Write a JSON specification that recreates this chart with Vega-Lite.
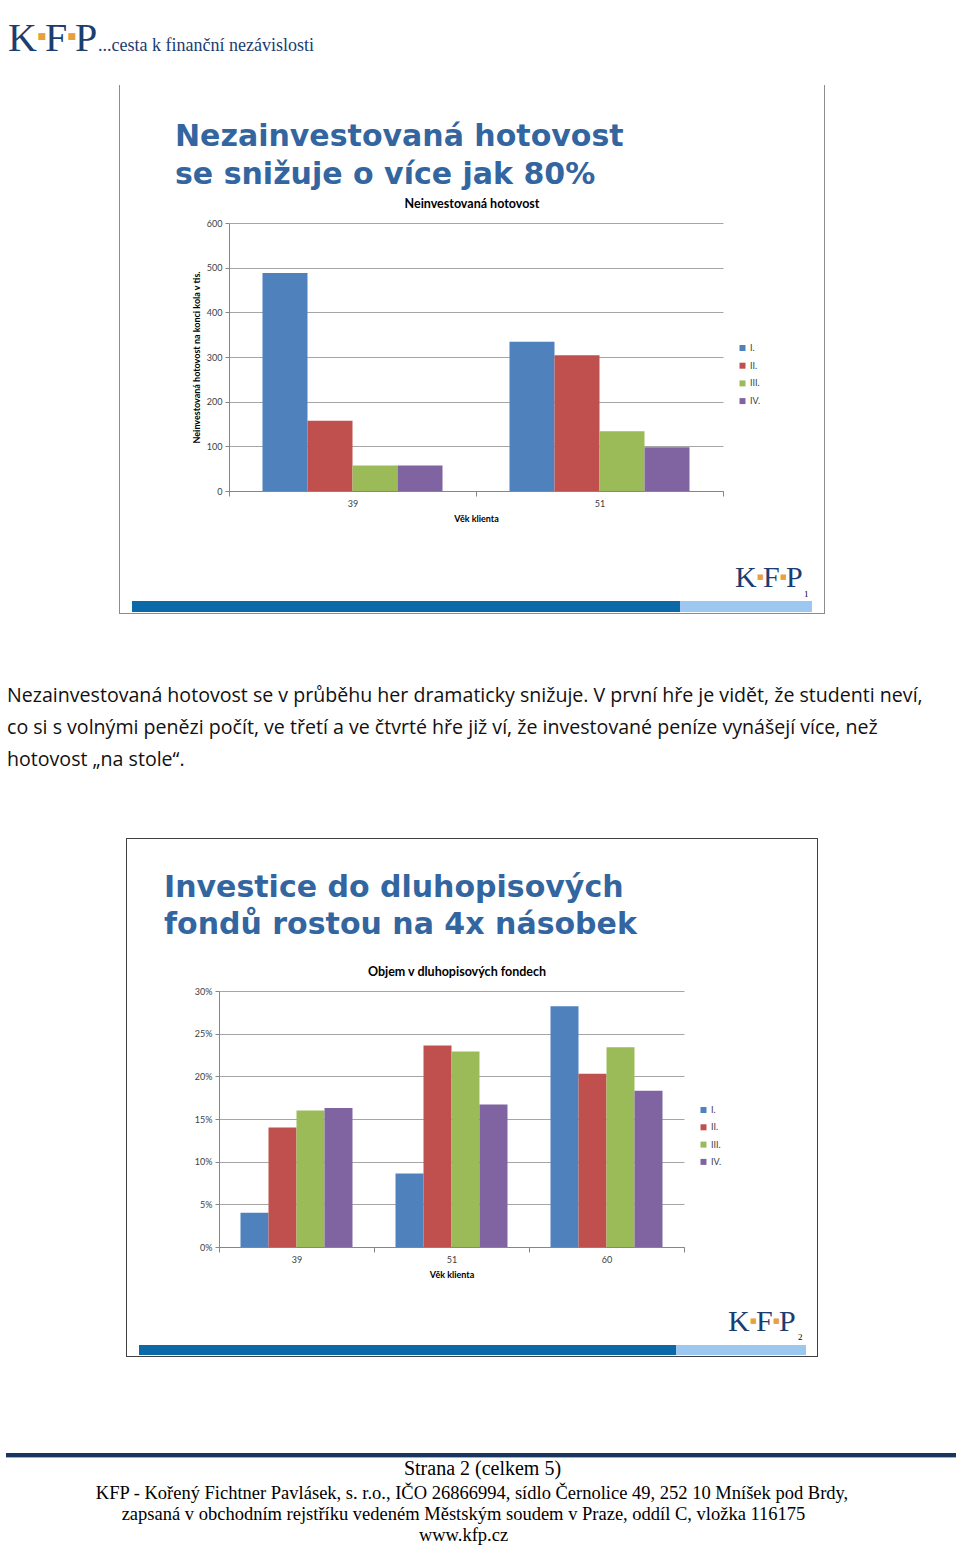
{
  "$schema": "https://vega.github.io/schema/vega-lite/v6.json",
  "padding": 0,
  "background": "white",
  "spacing": 0,
  "resolve": {"scale": {"color": "independent", "xOffset": "independent"}, "legend": {"color": "independent"}},
  "config": {
    "view": {"stroke": null},
    "concat": {"spacing": 0},
    "axis": {"labelFont": "Lato", "titleFont": "Lato"},
    "legend": {"labelFont": "Lato"}
  },
  "vconcat": [
    {
      "hconcat": [
        {"width": 8, "height": 60, "data": {"values": []}, "mark": "point"},
        {"width": 29, "height": 60, "data": {"values": []}, "mark": "point", "title": {"text": "K", "orient": "bottom", "frame": "group", "anchor": "start", "offset": -41, "font": "Liberation Serif", "fontSize": 40, "fontWeight": "normal", "color": "#1b3d70"}},
        {"width": 8, "height": 60, "data": {"values": []}, "mark": "point", "title": {"text": "■", "orient": "bottom", "frame": "group", "anchor": "start", "offset": -28, "dx": 0.5, "font": "DejaVu Sans", "fontSize": 9, "fontWeight": "normal", "color": "#e8a03c"}},
        {"width": 22, "height": 60, "data": {"values": []}, "mark": "point", "title": {"text": "F", "orient": "bottom", "frame": "group", "anchor": "start", "offset": -41, "font": "Liberation Serif", "fontSize": 40, "fontWeight": "normal", "color": "#1b3d70"}},
        {"width": 8, "height": 60, "data": {"values": []}, "mark": "point", "title": {"text": "■", "orient": "bottom", "frame": "group", "anchor": "start", "offset": -28, "dx": 0.5, "font": "DejaVu Sans", "fontSize": 9, "fontWeight": "normal", "color": "#e8a03c"}},
        {"width": 23, "height": 60, "data": {"values": []}, "mark": "point", "title": {"text": "P", "orient": "bottom", "frame": "group", "anchor": "start", "offset": -41, "font": "Liberation Serif", "fontSize": 40, "fontWeight": "normal", "color": "#1b3d70"}},
        {"width": 300, "height": 60, "data": {"values": []}, "mark": "point", "title": {"text": "...cesta k finanční nezávislosti", "orient": "bottom", "frame": "group", "anchor": "start", "offset": -23, "font": "Liberation Serif", "fontSize": 18, "fontWeight": "normal", "color": "#1b3d70"}}
      ],
      "spacing": 0,
      "bounds": "flush"
    },
    {"width": 960, "height": 25, "data": {"values": []}, "mark": "point"},
    {
      "hconcat": [
        {"width": 119, "height": 528, "data": {"values": []}, "mark": "point"},
        {"width": 1, "height": 528, "data": {"values": [{}]}, "mark": {"type": "rect", "color": "#8c8c8c"}},
        {
          "vconcat": [
            {"width": 704, "height": 110, "data": {"values": []}, "mark": "point", "title": {"text": ["Nezainvestovaná hotovost", "se snižuje o více jak 80%"], "orient": "bottom", "frame": "group", "anchor": "start", "offset": -73, "dx": 55, "font": "DejaVu Sans", "fontSize": 30, "fontWeight": "bold", "color": "#3366a0", "lineHeight": 38}},
            {"width": 704, "height": 24, "data": {"values": []}, "mark": "point", "title": {"text": "Neinvestovaná hotovost", "orient": "bottom", "frame": "group", "anchor": "middle", "offset": -21, "font": "Lato", "fontSize": 12.5, "fontWeight": "bold", "color": "#000000"}},
            {
              "hconcat": [
                {"width": 109, "height": 268, "data": {"values": []}, "mark": "point"},
                {
                  "width": 494,
                  "height": 268,
                  "data": {"values": [
                    {"vek": "39", "kolo": "I.", "hotovost": 488},
                    {"vek": "39", "kolo": "II.", "hotovost": 157},
                    {"vek": "39", "kolo": "III.", "hotovost": 57},
                    {"vek": "39", "kolo": "IV.", "hotovost": 57},
                    {"vek": "51", "kolo": "I.", "hotovost": 334},
                    {"vek": "51", "kolo": "II.", "hotovost": 304},
                    {"vek": "51", "kolo": "III.", "hotovost": 134},
                    {"vek": "51", "kolo": "IV.", "hotovost": 98}
                  ]},
                  "mark": {"type": "bar"},
                  "encoding": {
                    "x": {"field": "vek", "type": "nominal", "sort": ["39", "51"], "scale": {"paddingInner": 0, "paddingOuter": 0},
                      "axis": {"title": "Věk klienta", "labelAngle": 0, "tickBand": "extent", "ticks": true, "tickSize": 5, "tickColor": "#868686", "domainColor": "#868686", "labelPadding": 3.5, "labelFontSize": 9, "labelColor": "#404040", "titleFontSize": 9, "titleFontWeight": "bold", "titleColor": "#000000", "titlePadding": 6, "grid": false}},
                    "xOffset": {"field": "kolo", "type": "nominal", "sort": ["I.", "II.", "III.", "IV."], "scale": {"paddingInner": 0, "paddingOuter": 0.744}},
                    "y": {"field": "hotovost", "type": "quantitative", "scale": {"domain": [0, 600], "nice": false},
                      "axis": {"title": "Neinvestovaná hotovost na konci kola v tis.", "values": [0, 100, 200, 300, 400, 500, 600], "grid": true, "gridColor": "#a6a6a6", "domainColor": "#868686", "tickColor": "#868686", "tickSize": 4, "labelPadding": 3, "labelFontSize": 9, "labelColor": "#404040", "titleFontSize": 9, "titleFontWeight": "bold", "titleColor": "#000000", "titlePadding": 5, "minExtent": 23, "maxExtent": 23}},
                    "color": {"field": "kolo", "type": "nominal", "sort": ["I.", "II.", "III.", "IV."],
                      "scale": {"domain": ["I.", "II.", "III.", "IV."], "range": ["#4f81bd", "#c0504d", "#9bbb59", "#8064a2"]},
                      "legend": {"title": null, "orient": "none", "direction": "vertical", "legendX": 509, "legendY": 120.5, "symbolType": "square", "symbolSize": 36, "symbolStrokeWidth": 0, "labelFontSize": 9, "labelColor": "#404040", "rowPadding": 7.7, "labelOffset": 3, "padding": 0}}
                  }
                },
                {"width": 101, "height": 268, "data": {"values": []}, "mark": "point"}
              ],
              "spacing": 0,
              "bounds": "flush",
              "resolve": {"scale": {"color": "independent", "xOffset": "independent"}, "legend": {"color": "independent"}}
            },
            {"width": 704, "height": 30, "data": {"values": []}, "mark": "point"},
            {
              "hconcat": [
                {"width": 615, "height": 47, "data": {"values": []}, "mark": "point"},
                {"width": 22, "height": 47, "data": {"values": []}, "mark": "point", "title": {"text": "K", "orient": "bottom", "frame": "group", "anchor": "start", "offset": -38, "font": "Liberation Serif", "fontSize": 30, "fontWeight": "normal", "color": "#1b3d70"}},
                {"width": 6, "height": 47, "data": {"values": []}, "mark": "point", "title": {"text": "■", "orient": "bottom", "frame": "group", "anchor": "start", "offset": -28, "font": "DejaVu Sans", "fontSize": 7, "fontWeight": "normal", "color": "#e8a03c"}},
                {"width": 17, "height": 47, "data": {"values": []}, "mark": "point", "title": {"text": "F", "orient": "bottom", "frame": "group", "anchor": "start", "offset": -38, "font": "Liberation Serif", "fontSize": 30, "fontWeight": "normal", "color": "#1b3d70"}},
                {"width": 6, "height": 47, "data": {"values": []}, "mark": "point", "title": {"text": "■", "orient": "bottom", "frame": "group", "anchor": "start", "offset": -28, "font": "DejaVu Sans", "fontSize": 7, "fontWeight": "normal", "color": "#e8a03c"}},
                {"width": 17, "height": 47, "data": {"values": []}, "mark": "point", "title": {"text": "P", "orient": "bottom", "frame": "group", "anchor": "start", "offset": -38, "font": "Liberation Serif", "fontSize": 30, "fontWeight": "normal", "color": "#1b3d70"}},
                {"width": 21, "height": 47, "data": {"values": []}, "mark": "point", "title": {"text": "1", "orient": "bottom", "frame": "group", "anchor": "start", "offset": -11, "dx": 1, "font": "Liberation Serif", "fontSize": 9, "fontWeight": "normal", "color": "#000000"}}
              ],
              "spacing": 0,
              "bounds": "flush"
            },
            {
              "hconcat": [
                {"width": 12, "height": 11, "data": {"values": []}, "mark": "point"},
                {"width": 548, "height": 11, "data": {"values": [{}]}, "mark": {"type": "rect", "color": "#0b69a8"}},
                {"width": 132, "height": 11, "data": {"values": [{}]}, "mark": {"type": "rect", "color": "#9cc8ef"}},
                {"width": 12, "height": 11, "data": {"values": []}, "mark": "point"}
              ],
              "spacing": 0,
              "bounds": "flush"
            }
          ],
          "spacing": 0,
          "resolve": {"scale": {"color": "independent", "xOffset": "independent"}, "legend": {"color": "independent"}}
        },
        {"width": 1, "height": 528, "data": {"values": [{}]}, "mark": {"type": "rect", "color": "#8c8c8c"}}
      ],
      "spacing": 0,
      "resolve": {"scale": {"color": "independent", "xOffset": "independent"}, "legend": {"color": "independent"}}
    },
    {
      "hconcat": [
        {"width": 119, "height": 1, "data": {"values": []}, "mark": "point"},
        {"width": 706, "height": 1, "data": {"values": [{}]}, "mark": {"type": "rect", "color": "#8c8c8c"}}
      ],
      "spacing": 0,
      "bounds": "flush"
    },
    {"width": 960, "height": 224, "data": {"values": []}, "mark": "point", "title": {"text": ["Nezainvestovaná hotovost se v průběhu her dramaticky snižuje.  V první hře je vidět, že studenti neví,", "co si s volnými penězi počít, ve třetí a ve čtvrté hře již ví, že investované peníze vynášejí více, než", "hotovost „na stole“."], "orient": "bottom", "frame": "group", "anchor": "start", "offset": -151, "dx": 7, "font": "Open Sans", "fontSize": 19.6, "fontWeight": "normal", "color": "#111111", "lineHeight": 32}},
    {
      "hconcat": [
        {"width": 126, "height": 1, "data": {"values": []}, "mark": "point"},
        {"width": 692, "height": 1, "data": {"values": [{}]}, "mark": {"type": "rect", "color": "#404040"}}
      ],
      "spacing": 0,
      "bounds": "flush"
    },
    {
      "hconcat": [
        {"width": 126, "height": 517, "data": {"values": []}, "mark": "point"},
        {"width": 1, "height": 517, "data": {"values": [{}]}, "mark": {"type": "rect", "color": "#404040"}},
        {
          "vconcat": [
            {"width": 690, "height": 110, "data": {"values": []}, "mark": "point", "title": {"text": ["Investice do dluhopisových", "fondů rostou na 4x násobek"], "orient": "bottom", "frame": "group", "anchor": "start", "offset": -76, "dx": 37, "font": "DejaVu Sans", "fontSize": 30, "fontWeight": "bold", "color": "#3366a0", "lineHeight": 37}},
            {"width": 690, "height": 38, "data": {"values": []}, "mark": "point", "title": {"text": "Objem v dluhopisových fondech", "orient": "bottom", "frame": "group", "anchor": "middle", "offset": -21, "dx": -15, "font": "Lato", "fontSize": 12.5, "fontWeight": "bold", "color": "#000000"}},
            {
              "hconcat": [
                {"width": 92, "height": 256, "data": {"values": []}, "mark": "point"},
                {
                  "width": 465,
                  "height": 256,
                  "data": {"values": [
                    {"vek": "39", "kolo": "I.", "podil": 0.040},
                    {"vek": "39", "kolo": "II.", "podil": 0.140},
                    {"vek": "39", "kolo": "III.", "podil": 0.160},
                    {"vek": "39", "kolo": "IV.", "podil": 0.163},
                    {"vek": "51", "kolo": "I.", "podil": 0.086},
                    {"vek": "51", "kolo": "II.", "podil": 0.236},
                    {"vek": "51", "kolo": "III.", "podil": 0.229},
                    {"vek": "51", "kolo": "IV.", "podil": 0.167},
                    {"vek": "60", "kolo": "I.", "podil": 0.282},
                    {"vek": "60", "kolo": "II.", "podil": 0.203},
                    {"vek": "60", "kolo": "III.", "podil": 0.234},
                    {"vek": "60", "kolo": "IV.", "podil": 0.183}
                  ]},
                  "mark": {"type": "bar"},
                  "encoding": {
                    "x": {"field": "vek", "type": "nominal", "sort": ["39", "51", "60"], "scale": {"paddingInner": 0, "paddingOuter": 0},
                      "axis": {"title": "Věk klienta", "labelAngle": 0, "tickBand": "extent", "ticks": true, "tickSize": 5, "tickColor": "#868686", "domainColor": "#868686", "labelPadding": 3.5, "labelFontSize": 9, "labelColor": "#404040", "titleFontSize": 9, "titleFontWeight": "bold", "titleColor": "#000000", "titlePadding": 6, "grid": false}},
                    "xOffset": {"field": "kolo", "type": "nominal", "sort": ["I.", "II.", "III.", "IV."], "scale": {"paddingInner": 0, "paddingOuter": 0.768}},
                    "y": {"field": "podil", "type": "quantitative", "scale": {"domain": [0, 0.3], "nice": false},
                      "axis": {"title": null, "values": [0, 0.05, 0.1, 0.15, 0.2, 0.25, 0.3], "format": ".0%", "grid": true, "gridColor": "#a6a6a6", "domainColor": "#868686", "tickColor": "#868686", "tickSize": 4, "labelPadding": 3, "labelFontSize": 9, "labelColor": "#404040"}},
                    "color": {"field": "kolo", "type": "nominal", "sort": ["I.", "II.", "III.", "IV."],
                      "scale": {"domain": ["I.", "II.", "III.", "IV."], "range": ["#4f81bd", "#c0504d", "#9bbb59", "#8064a2"]},
                      "legend": {"title": null, "orient": "none", "direction": "vertical", "legendX": 480, "legendY": 114.5, "symbolType": "square", "symbolSize": 36, "symbolStrokeWidth": 0, "labelFontSize": 9, "labelColor": "#404040", "rowPadding": 7.3, "labelOffset": 3, "padding": 0}}
                  }
                },
                {"width": 133, "height": 256, "data": {"values": []}, "mark": "point"}
              ],
              "spacing": 0,
              "bounds": "flush",
              "resolve": {"scale": {"color": "independent", "xOffset": "independent"}, "legend": {"color": "independent"}}
            },
            {"width": 690, "height": 17, "data": {"values": []}, "mark": "point"},
            {
              "hconcat": [
                {"width": 601, "height": 48, "data": {"values": []}, "mark": "point"},
                {"width": 22, "height": 48, "data": {"values": []}, "mark": "point", "title": {"text": "K", "orient": "bottom", "frame": "group", "anchor": "start", "offset": -38, "font": "Liberation Serif", "fontSize": 30, "fontWeight": "normal", "color": "#1b3d70"}},
                {"width": 6, "height": 48, "data": {"values": []}, "mark": "point", "title": {"text": "■", "orient": "bottom", "frame": "group", "anchor": "start", "offset": -28, "font": "DejaVu Sans", "fontSize": 7, "fontWeight": "normal", "color": "#e8a03c"}},
                {"width": 17, "height": 48, "data": {"values": []}, "mark": "point", "title": {"text": "F", "orient": "bottom", "frame": "group", "anchor": "start", "offset": -38, "font": "Liberation Serif", "fontSize": 30, "fontWeight": "normal", "color": "#1b3d70"}},
                {"width": 6, "height": 48, "data": {"values": []}, "mark": "point", "title": {"text": "■", "orient": "bottom", "frame": "group", "anchor": "start", "offset": -28, "font": "DejaVu Sans", "fontSize": 7, "fontWeight": "normal", "color": "#e8a03c"}},
                {"width": 17, "height": 48, "data": {"values": []}, "mark": "point", "title": {"text": "P", "orient": "bottom", "frame": "group", "anchor": "start", "offset": -38, "font": "Liberation Serif", "fontSize": 30, "fontWeight": "normal", "color": "#1b3d70"}},
                {"width": 21, "height": 48, "data": {"values": []}, "mark": "point", "title": {"text": "2", "orient": "bottom", "frame": "group", "anchor": "start", "offset": -12, "dx": 2, "font": "Liberation Serif", "fontSize": 9, "fontWeight": "normal", "color": "#000000"}}
              ],
              "spacing": 0,
              "bounds": "flush"
            },
            {
              "hconcat": [
                {"width": 12, "height": 10, "data": {"values": []}, "mark": "point"},
                {"width": 537, "height": 10, "data": {"values": [{}]}, "mark": {"type": "rect", "color": "#0b69a8"}},
                {"width": 130, "height": 10, "data": {"values": [{}]}, "mark": {"type": "rect", "color": "#9cc8ef"}},
                {"width": 11, "height": 10, "data": {"values": []}, "mark": "point"}
              ],
              "spacing": 0,
              "bounds": "flush"
            }
          ],
          "spacing": 0,
          "resolve": {"scale": {"color": "independent", "xOffset": "independent"}, "legend": {"color": "independent"}}
        },
        {"width": 1, "height": 517, "data": {"values": [{}]}, "mark": {"type": "rect", "color": "#404040"}}
      ],
      "spacing": 0,
      "resolve": {"scale": {"color": "independent", "xOffset": "independent"}, "legend": {"color": "independent"}}
    },
    {
      "hconcat": [
        {"width": 126, "height": 1, "data": {"values": []}, "mark": "point"},
        {"width": 692, "height": 1, "data": {"values": [{}]}, "mark": {"type": "rect", "color": "#404040"}}
      ],
      "spacing": 0,
      "bounds": "flush"
    },
    {"width": 960, "height": 96, "data": {"values": []}, "mark": "point"},
    {
      "hconcat": [
        {"width": 6, "height": 4, "data": {"values": []}, "mark": "point"},
        {"width": 950, "height": 4, "data": {"values": [{}]}, "mark": {"type": "rect", "color": "#17375e"}}
      ],
      "spacing": 0,
      "bounds": "flush"
    },
    {
      "hconcat": [
        {"width": 6, "height": 1, "data": {"values": []}, "mark": "point"},
        {"width": 950, "height": 1, "data": {"values": [{}]}, "mark": {"type": "rect", "color": "#95b3d7"}}
      ],
      "spacing": 0,
      "bounds": "flush"
    },
    {"width": 960, "height": 26, "data": {"values": []}, "mark": "point", "title": {"text": "Strana 2 (celkem 5)", "orient": "bottom", "frame": "group", "anchor": "middle", "offset": -25, "dx": 2.5, "font": "Liberation Serif", "fontSize": 20, "fontWeight": "normal", "color": "#000000"}},
    {"width": 960, "height": 20, "data": {"values": []}, "mark": "point", "title": {"text": "KFP - Kořený Fichtner Pavlásek, s. r.o., IČO 26866994, sídlo Černolice 49, 252 10  Mníšek pod Brdy,", "orient": "bottom", "frame": "group", "anchor": "middle", "offset": -20, "dx": -8, "font": "Liberation Serif", "fontSize": 18.5, "fontWeight": "normal", "color": "#000000"}},
    {"width": 960, "height": 21, "data": {"values": []}, "mark": "point", "title": {"text": "zapsaná v obchodním rejstříku vedeném Městským soudem v Praze, oddíl C, vložka 116175", "orient": "bottom", "frame": "group", "anchor": "middle", "offset": -20, "dx": -16.5, "font": "Liberation Serif", "fontSize": 18.5, "fontWeight": "normal", "color": "#000000"}},
    {"width": 960, "height": 23, "data": {"values": []}, "mark": "point", "title": {"text": "www.kfp.cz", "orient": "bottom", "frame": "group", "anchor": "middle", "offset": -22, "dx": -16.5, "font": "Liberation Serif", "fontSize": 18.5, "fontWeight": "normal", "color": "#000000"}}
  ]
}
